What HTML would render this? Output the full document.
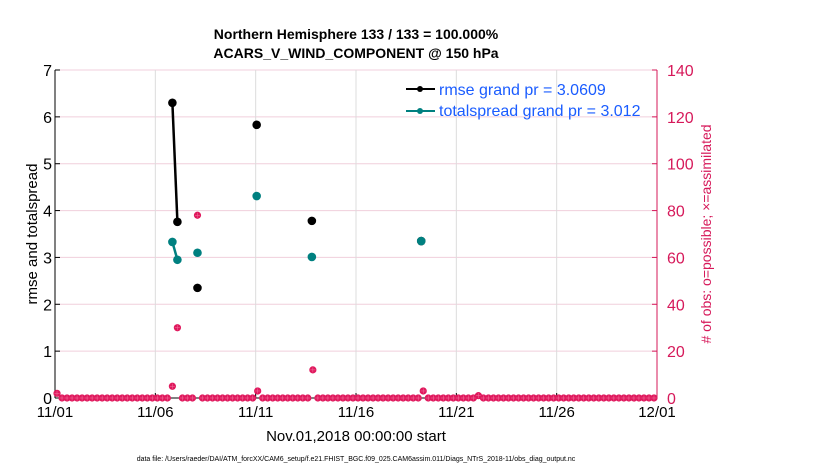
<!DOCTYPE html>
<html><head><meta charset="utf-8"><style>
body{margin:0;background:#fff}
svg{display:block;font-family:"Liberation Sans",sans-serif}
</style></head><body>
<svg id="chart" width="830" height="470" viewBox="0 0 830 470">
<g id="grid"></g>
<g id="axes"></g>
<g id="marks"></g>
<text x="356" y="39" text-anchor="middle" font-size="14" font-weight="bold">Northern Hemisphere 133 / 133 = 100.000%</text>
<text x="356" y="58" text-anchor="middle" font-size="14" font-weight="bold">ACARS_V_WIND_COMPONENT @ 150 hPa</text>
<text transform="translate(37,234) rotate(-90)" text-anchor="middle" font-size="15">rmse and totalspread</text>
<text transform="translate(711,234) rotate(-90)" text-anchor="middle" font-size="14" fill="#d6195a">
# of obs: o=possible; ×=assimilated</text>
<text x="356" y="441" text-anchor="middle" font-size="15">Nov.01,2018 00:00:00 start</text>
<text x="356" y="461" text-anchor="middle" font-size="7">data file: /Users/raeder/DAI/ATM_forcXX/CAM6_setup/f.e21.FHIST_BGC.f09_025.CAM6assim.011/Diags_NTrS_2018-11/obs_diag_output.nc</text>
<g>
<line x1="406" y1="89" x2="435" y2="89" stroke="#000" stroke-width="2"/><circle cx="420" cy="89" r="3" fill="#000"/>
<text x="439" y="95" font-size="16" fill="#1a5cff">rmse grand pr = 3.0609</text>
<line x1="406" y1="111" x2="435" y2="111" stroke="#008080" stroke-width="2"/><circle cx="420" cy="111" r="3" fill="#008080"/>
<text x="439" y="116" font-size="16" fill="#1a5cff">totalspread grand pr = 3.012</text>
</g>
</svg>
<script>
const xTickLabels=["11/01","11/06","11/11","11/16","11/21","11/26","12/01"];
const xTickDays=[0,5,10,15,20,25,30];
const yTicksLeft=[0,1,2,3,4,5,6,7];
const yTicksRight=[0,20,40,60,80,100,120,140];
const binDays=[5.85,6.1,7.1,10.05,12.8,18.25];
const rmseVals=[6.3,3.76,2.35,5.83,3.78,3.35];
const spreadVals=[3.33,2.95,3.1,4.31,3.01,3.35];
const rmseConnected=[true,false,false,false,false,false];
const countBins=[0,23,24,28,40,51,73,84];
const countVals=[2,5,30,78,3,12,3,1];
const NS="http://www.w3.org/2000/svg";
const L=55,R=657,T=70,B=398;
const xs=d=>L+d*(R-L)/30;
const yl=v=>B-v*(B-T)/7;
const yr=v=>B-v*(B-T)/140;
function mk(tag,attrs,parent){const e=document.createElementNS(NS,tag);for(const k in attrs)e.setAttribute(k,attrs[k]);parent.appendChild(e);return e;}
const grid=document.getElementById('grid'),axes=document.getElementById('axes'),marks=document.getElementById('marks');
yTicksLeft.forEach(v=>{if(v>0){const g=mk('line',{x1:L,x2:R,y1:yl(v),y2:yl(v),stroke:'#f0cfdc','stroke-width':1},grid);}
 mk('line',{x1:L,x2:L+5,y1:yl(v),y2:yl(v),stroke:'#000'},axes);
 const t=mk('text',{x:L-3,y:yl(v)+6,'text-anchor':'end','font-size':16},axes);t.textContent=v;
 });
yTicksRight.forEach(v=>{mk('line',{x1:R-5,x2:R,y1:yr(v),y2:yr(v),stroke:'#d6195a'},axes);
 const t=mk('text',{x:R+10,y:yr(v)+6,'font-size':16,fill:'#d6195a'},axes);t.textContent=v;
 });
xTickDays.forEach((d,i)=>{if(i>0&&i<6){const g=mk('line',{x1:xs(d),x2:xs(d),y1:T,y2:B,stroke:'#dcdcdc'},grid);}
 mk('line',{x1:xs(d),x2:xs(d),y1:B,y2:B-5,stroke:'#000'},axes);
 const t=mk('text',{x:xs(d),y:B+19,'text-anchor':'middle','font-size':15},axes);t.textContent=xTickLabels[i];
 });
mk('line',{x1:L,x2:L,y1:T,y2:B,stroke:'#000'},axes);
mk('line',{x1:L,x2:R,y1:B,y2:B,stroke:'#000'},axes);
mk('line',{x1:R,x2:R,y1:T,y2:B,stroke:'#d6195a'},axes);
for(let i=0;i<120;i++){const k=countBins.indexOf(i);const c=k>=0?countVals[k]:0;
 const cx=xs(i*0.25+0.1),cy=yr(c);
 const g=mk('g',{},marks);
 mk('circle',{cx:cx,cy:cy,r:3.6,fill:'#e0185d'},g);
 mk('path',{d:`M${cx-2.5} ${cy}H${cx+2.5}M${cx} ${cy-2.5}V${cy+2.5}`,stroke:'#f07aa0','stroke-width':0.5},g);}
function series(vals,color,name){
 vals.forEach((v,i)=>{if(rmseConnected[i]&&i+1<vals.length){const l=mk('line',{x1:xs(binDays[i]),y1:yl(v),x2:xs(binDays[i+1]),y2:yl(vals[i+1]),stroke:color,'stroke-width':2.5},marks);
  }});
 vals.forEach((v,i)=>{const c=mk('circle',{cx:xs(binDays[i]),cy:yl(v),r:4.3,fill:color},marks);
  });}
series(rmseVals,'#000','rmse');
series(spreadVals,'#008080','totalspread');
</script>
</body></html>
